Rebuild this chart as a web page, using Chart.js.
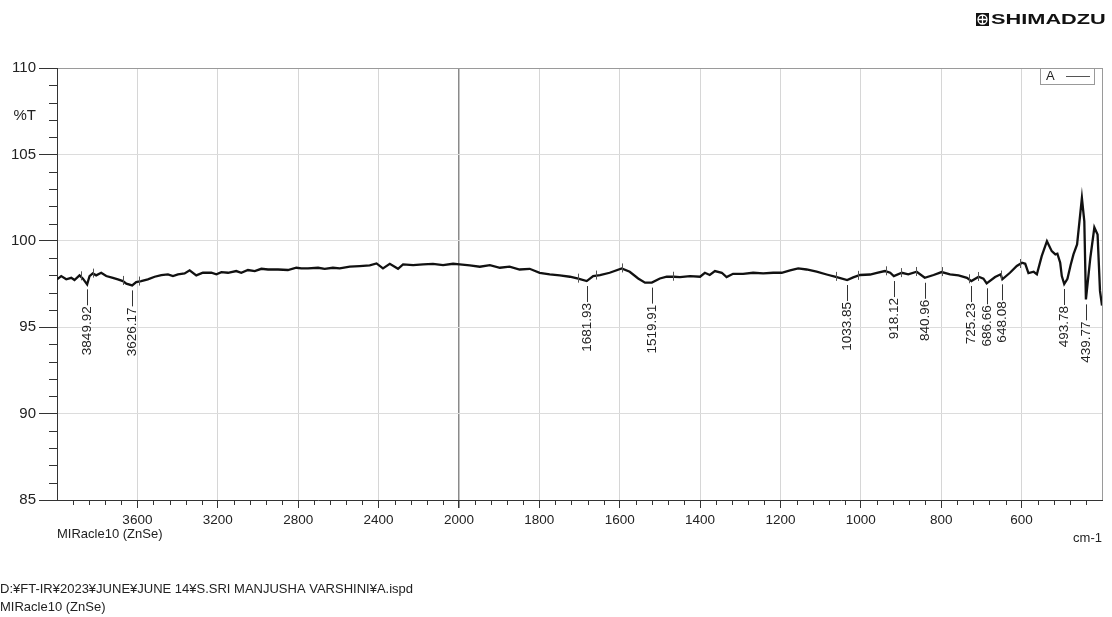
<!DOCTYPE html>
<html>
<head>
<meta charset="utf-8">
<title>FT-IR A</title>
<script src="https://cdn.jsdelivr.net/npm/chart.js@4.4.0/dist/chart.umd.min.js"></script>
<style>
  html, body { margin: 0; padding: 0; background: #fff; }
  #wrap { width: 1112px; height: 617px; }
</style>
</head>
<body>
<div id="wrap"><canvas id="chart" width="1112" height="617"></canvas></div>
<script>
// Espectro A: numero de onda (cm-1) y transmitancia (%T)
const waveNumbers = [
  4000, 3979, 3954, 3929, 3913, 3888, 3871, 3850, 3838, 3822, 3805, 3780, 3755, 3722, 3697, 3672,
  3655, 3626, 3606, 3581, 3548, 3514, 3481, 3448, 3423, 3398, 3365, 3340, 3307, 3274, 3232, 3207,
  3182, 3149, 3108, 3083, 3050, 3016, 2983, 2950, 2900, 2851, 2809, 2784, 2751, 2701, 2668, 2627,
  2593, 2543, 2494, 2444, 2410, 2378, 2344, 2303, 2278, 2228, 2178, 2129, 2079, 2029, 1998, 1973,
  1948, 1923, 1898, 1874, 1849, 1824, 1799, 1774, 1749, 1724, 1703, 1682, 1666, 1649, 1625, 1595,
  1575, 1554, 1537, 1520, 1500, 1483, 1465, 1450, 1425, 1400, 1388, 1376, 1363, 1346, 1334, 1318,
  1293, 1268, 1243, 1218, 1197, 1176, 1156, 1135, 1110, 1085, 1060, 1034, 1019, 1002, 977, 960,
  940, 927, 918, 898, 882, 861, 841, 819, 799, 778, 757, 736, 725, 707, 695, 687,
  666, 652, 648, 629, 612, 599, 591, 583, 570, 562, 550, 537, 525, 516, 511, 504,
  500, 494, 486, 478, 471, 462, 450, 444, 440, 429, 419, 411, 405, 400
];
const transmittance = [
  97.77, 97.96, 97.77, 97.86, 97.73, 98.00, 97.81, 97.48, 97.96, 98.11, 98.00, 98.15, 97.96, 97.86, 97.77, 97.67,
  97.52, 97.42, 97.61, 97.67, 97.77, 97.92, 98.02, 98.06, 97.96, 98.06, 98.11, 98.29, 98.00, 98.15, 98.15, 98.06,
  98.19, 98.15, 98.25, 98.15, 98.31, 98.25, 98.38, 98.34, 98.34, 98.31, 98.44, 98.40, 98.40, 98.44, 98.38, 98.44,
  98.40, 98.50, 98.54, 98.58, 98.69, 98.40, 98.67, 98.38, 98.63, 98.59, 98.63, 98.67, 98.59, 98.67, 98.63, 98.58,
  98.50, 98.59, 98.44, 98.50, 98.34, 98.38, 98.15, 98.06, 98.00, 97.92, 97.81, 97.67, 97.96, 98.02, 98.15, 98.40,
  98.21, 97.82, 97.58, 97.58, 97.82, 97.92, 97.92, 97.90, 97.96, 97.92, 98.15, 98.02, 98.25, 98.15, 97.90, 98.09,
  98.09, 98.15, 98.11, 98.15, 98.15, 98.29, 98.40, 98.34, 98.21, 98.05, 97.90, 97.73, 97.88, 98.02, 98.05, 98.15,
  98.25, 98.15, 97.96, 98.15, 98.06, 98.21, 97.86, 98.02, 98.19, 98.06, 98.00, 97.86, 97.67, 97.92, 97.81, 97.54,
  97.90, 98.06, 97.77, 98.15, 98.54, 98.73, 98.67, 98.13, 98.21, 98.06, 99.11, 99.98, 99.40, 99.21, 99.25, 98.73,
  97.96, 97.50, 97.80, 98.60, 99.21, 99.79, 102.48, 101.13, 96.61, 99.02, 100.77, 100.36, 97.10, 96.25
];

// Picos marcados
const peakWaveNumbers = [3849.92, 3626.17, 1681.93, 1519.91, 1033.85, 918.12, 840.96, 725.23, 686.66, 648.08, 493.78, 439.77];
const peakT = [97.48, 97.42, 97.67, 97.58, 97.73, 97.96, 97.86, 97.67, 97.54, 97.77, 97.50, 96.61];

// Marcas de rango sobre la curva
const rangeMarks = [3883, 3823, 3674, 3593, 1703, 1658, 1595, 1468, 1062, 1008, 938, 900, 863, 799, 731, 708, 651, 604];

// Ejes
const xTickLabels = [3600, 3200, 2800, 2400, 2000, 1800, 1600, 1400, 1200, 1000, 800, 600];
const yTickLabels = [85, 90, 95, 100, 105, 110];

const FONT = "Arial, 'Liberation Sans', sans-serif";

// 4000-2000 cm-1 va a media escala
function toAxis(w) { return w > 2000 ? 2000 + (w - 2000) / 2 : w; }
function fromAxis(u) { return u > 2000 ? 2000 + (u - 2000) * 2 : u; }

// %T en un numero de onda cualquiera (interpolado entre puntos medidos)
function tEn(w) {
  for (let i = 1; i < waveNumbers.length; i++) {
    if (waveNumbers[i] <= w) {
      const w0 = waveNumbers[i - 1], w1 = waveNumbers[i];
      const f = (w0 - w) / (w0 - w1);
      return transmittance[i - 1] + f * (transmittance[i] - transmittance[i - 1]);
    }
  }
  return transmittance[transmittance.length - 1];
}

const puntos = waveNumbers.map((w, i) => ({ x: toAxis(w), y: transmittance[i] }));

const decoraciones = {
  id: 'decoraciones',
  afterDraw(chart) {
    const ctx = chart.ctx;
    const area = chart.chartArea;
    const sx = chart.scales.x;
    const sy = chart.scales.y;
    ctx.save();

    // borde derecho
    ctx.strokeStyle = '#9a9a9a';
    ctx.lineWidth = 1;
    ctx.beginPath();
    ctx.moveTo(Math.round(area.right) + 0.5, area.top);
    ctx.lineTo(Math.round(area.right) + 0.5, area.bottom);
    ctx.stroke();

    // marcas menores
    ctx.strokeStyle = '#333';
    ctx.beginPath();
    for (let v = 86; v < 110; v++) {
      if (v % 5 === 0) continue;
      const py = Math.round(sy.getPixelForValue(v)) + 0.5;
      ctx.moveTo(area.left - 8, py);
      ctx.lineTo(area.left, py);
    }
    for (let u = 440; u < 3000; u += 40) {
      if (u % 200 === 0) continue;
      const px = Math.round(sx.getPixelForValue(u)) + 0.5;
      ctx.moveTo(px, area.bottom);
      ctx.lineTo(px, area.bottom + 5);
    }
    ctx.stroke();

    // marcas de rango
    ctx.strokeStyle = '#555';
    ctx.beginPath();
    rangeMarks.forEach(w => {
      const px = Math.round(sx.getPixelForValue(toAxis(w))) + 0.5;
      const py = sy.getPixelForValue(tEn(w));
      ctx.moveTo(px, py - 5);
      ctx.lineTo(px, py + 4);
    });
    ctx.stroke();

    // textos
    ctx.fillStyle = '#222';
    ctx.textBaseline = 'middle';
    ctx.font = '15px ' + FONT;
    ctx.textAlign = 'right';
    ctx.fillText('%T', 36, 116);
    ctx.font = '13px ' + FONT;
    ctx.fillText('cm-1', area.right, 538);
    ctx.textAlign = 'left';
    ctx.fillText('MIRacle10 (ZnSe)', area.left, 534);
    ctx.font = '13px ' + FONT;
    ctx.fillText('D:¥FT-IR¥2023¥JUNE¥JUNE 14¥S.SRI MANJUSHA VARSHINI¥A.ispd', 0, 589);
    ctx.fillText('MIRacle10 (ZnSe)', 0, 607);

    // logo
    ctx.fillStyle = '#111';
    ctx.fillRect(976, 13, 13, 13);
    ctx.strokeStyle = '#fff';
    ctx.lineWidth = 1.3;
    ctx.beginPath();
    ctx.arc(982.5, 19.5, 4.5, 0, Math.PI * 2);
    ctx.moveTo(982.5, 15); ctx.lineTo(982.5, 24);
    ctx.moveTo(978, 19.5); ctx.lineTo(987, 19.5);
    ctx.stroke();
    ctx.save();
    ctx.translate(991, 19.5);
    ctx.scale(1.45, 1);
    ctx.fillStyle = '#111';
    ctx.font = 'bold 15px ' + FONT;
    ctx.textAlign = 'left';
    ctx.fillText('SHIMADZU', 0, 0);
    ctx.restore();

    // leyenda
    ctx.strokeStyle = '#999';
    ctx.lineWidth = 1;
    ctx.fillStyle = '#fff';
    ctx.fillRect(1040, area.top, 54, 16);
    ctx.strokeRect(1040.5, area.top + 0.5, 54, 16);
    ctx.fillStyle = '#222';
    ctx.font = '13px ' + FONT;
    ctx.textAlign = 'left';
    ctx.fillText(chart.data.datasets[0].label, 1046, area.top + 8.5);
    ctx.strokeStyle = '#555';
    ctx.beginPath();
    ctx.moveTo(1066, area.top + 8.5);
    ctx.lineTo(1090, area.top + 8.5);
    ctx.stroke();

    // etiquetas de picos
    ctx.font = '13.5px ' + FONT;
    ctx.strokeStyle = '#333';
    ctx.fillStyle = '#222';
    peakWaveNumbers.forEach((w, i) => {
      const px = Math.round(sx.getPixelForValue(toAxis(w))) + 0.5;
      const py = sy.getPixelForValue(peakT[i]);
      ctx.beginPath();
      ctx.moveTo(px, py + 5);
      ctx.lineTo(px, py + 21);
      ctx.stroke();
      ctx.save();
      ctx.translate(px, py + 22);
      ctx.rotate(-Math.PI / 2);
      ctx.textAlign = 'right';
      ctx.textBaseline = 'middle';
      ctx.fillText(w.toFixed(2), 0, 0);
      ctx.restore();
    });

    ctx.restore();
  }
};

new Chart(document.getElementById('chart'), {
  type: 'line',
  data: {
    datasets: [{
      label: 'A',
      data: puntos,
      borderColor: '#111',
      borderWidth: 2.3,
      pointRadius: 0,
      tension: 0,
      fill: false
    }]
  },
  options: {
    responsive: false,
    animation: false,
    layout: { padding: { top: 68, right: 10, bottom: 77, left: 0 } },
    plugins: {
      legend: { display: false },
      tooltip: { enabled: false }
    },
    scales: {
      x: {
        type: 'linear',
        reverse: true,
        min: toAxis(400),
        max: toAxis(4000),
        afterBuildTicks: s => { s.ticks = xTickLabels.map(w => ({ value: toAxis(w) })); },
        afterFit: s => { s.height = 40; },
        ticks: {
          callback: v => String(fromAxis(v)),
          font: { family: FONT, size: 13.5 },
          color: '#222',
          padding: 4,
          maxRotation: 0,
          autoSkip: false
        },
        grid: {
          color: c => (c.tick && c.tick.value === 2000) ? '#8a8a8a' : '#d6d6d6',
          lineWidth: c => (c.tick && c.tick.value === 2000) ? 1.5 : 1,
          tickColor: '#333',
          tickLength: 8
        },
        border: { color: '#333', width: 1 }
      },
      y: {
        min: 85,
        max: 110,
        afterBuildTicks: s => { s.ticks = yTickLabels.map(v => ({ value: v })); },
        afterFit: s => { s.width = 57; },
        ticks: {
          font: { family: FONT, size: 15 },
          color: '#222',
          padding: 3
        },
        grid: {
          color: c => (c.tick && c.tick.value === 110) ? '#9a9a9a' : '#dcdcdc',
          tickColor: '#333',
          tickLength: 18
        },
        border: { color: '#333', width: 1 }
      }
    }
  },
  plugins: [decoraciones]
});
</script>
</body>
</html>
